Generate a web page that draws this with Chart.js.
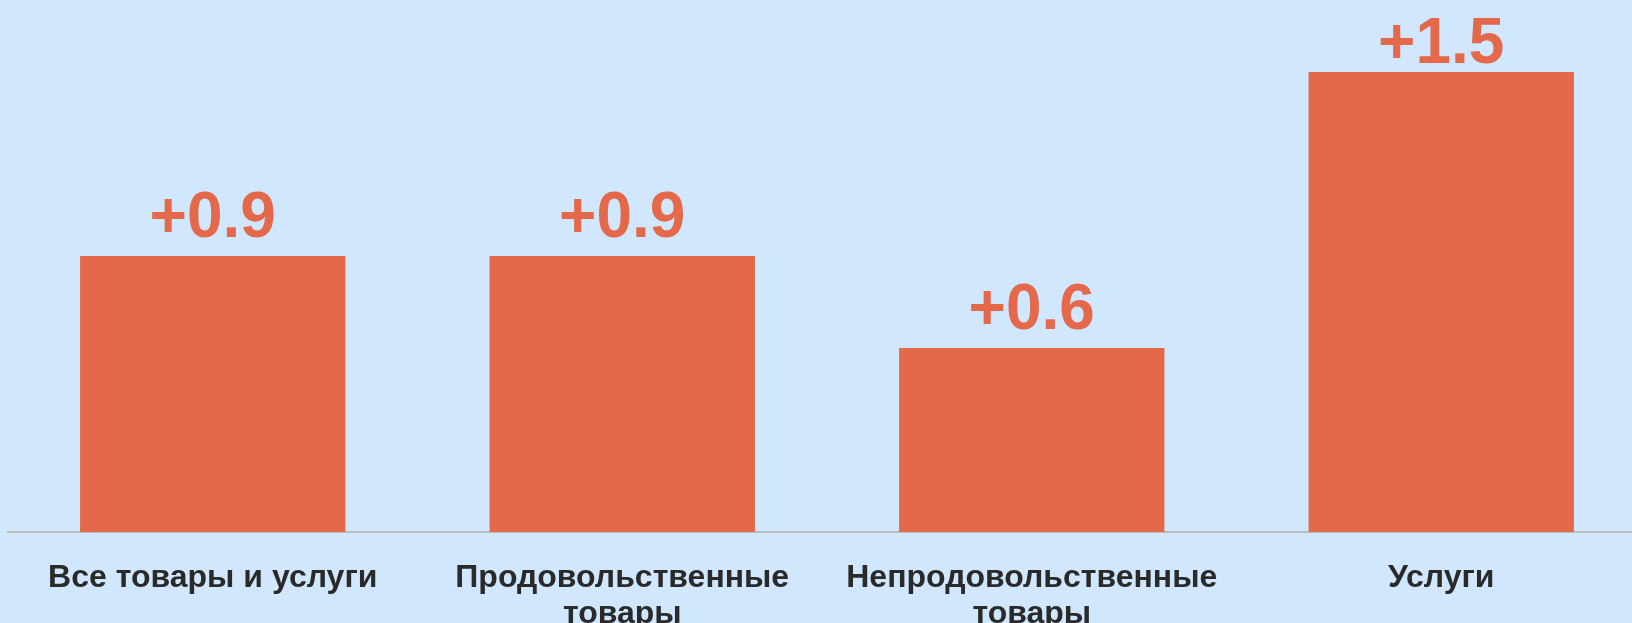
<!DOCTYPE html>
<html>
<head>
<meta charset="utf-8">
<script src="https://cdn.jsdelivr.net/npm/chart.js@4/dist/chart.umd.min.js"></script>
<style>
  html, body { margin: 0; padding: 0; background: #D0E7FE; overflow: hidden; }
  #wrap { width: 1646px; height: 623px; }
</style>
</head>
<body>
<div id="wrap"><canvas id="chart"></canvas></div>
<script>
// categories + values
const categories = [
  'Все товары и услуги',
  ['Продовольственные', 'товары'],
  ['Непродовольственные', 'товары'],
  'Услуги'
];
const values = [0.9, 0.9, 0.6, 1.5];
const valueLabels = ['+0.9', '+0.9', '+0.6', '+1.5'];

const barColor = '#E3694A';

Chart.defaults.font.family = '"Liberation Sans", Arial, sans-serif';

// draws the big numbers above the bars
const topLabels = {
  id: 'topLabels',
  afterDatasetsDraw(chart) {
    const ctx = chart.ctx;
    const meta = chart.getDatasetMeta(0);
    ctx.save();
    ctx.font = 'bold 64px "Liberation Sans", Arial, sans-serif';
    ctx.fillStyle = barColor;
    ctx.textAlign = 'center';
    ctx.textBaseline = 'alphabetic';
    meta.data.forEach((bar, i) => {
      let y = Math.max(bar.y - 19, 63);
      ctx.fillText(valueLabels[i], bar.x, y);
    });
    ctx.restore();
  }
};

new Chart(document.getElementById('chart').getContext('2d'), {
  type: 'bar',
  data: {
    labels: categories,
    datasets: [{
      data: values,
      backgroundColor: barColor,
      borderWidth: 0,
      barPercentage: 1,
      categoryPercentage: 0.648
    }]
  },
  options: {
    responsive: true,
    maintainAspectRatio: false,
    animation: false,
    layout: { padding: { left: 8, right: 0, top: 0, bottom: 0 } },
    plugins: {
      legend: { display: false },
      tooltip: { enabled: false }
    },
    scales: {
      x: {
        grid: { display: false },
        border: { display: true, color: '#BDBDBD', width: 2 },
        ticks: {
          color: '#2A2A2A',
          padding: 21,
          maxRotation: 0,
          autoSkip: false,
          font: { size: 32, weight: 'bold', lineHeight: 1.1 }
        },
        afterFit(scale) { scale.height = 91; }
      },
      y: {
        display: false,
        min: 0,
        max: 1.735
      }
    }
  },
  plugins: [topLabels]
});
</script>
</body>
</html>
